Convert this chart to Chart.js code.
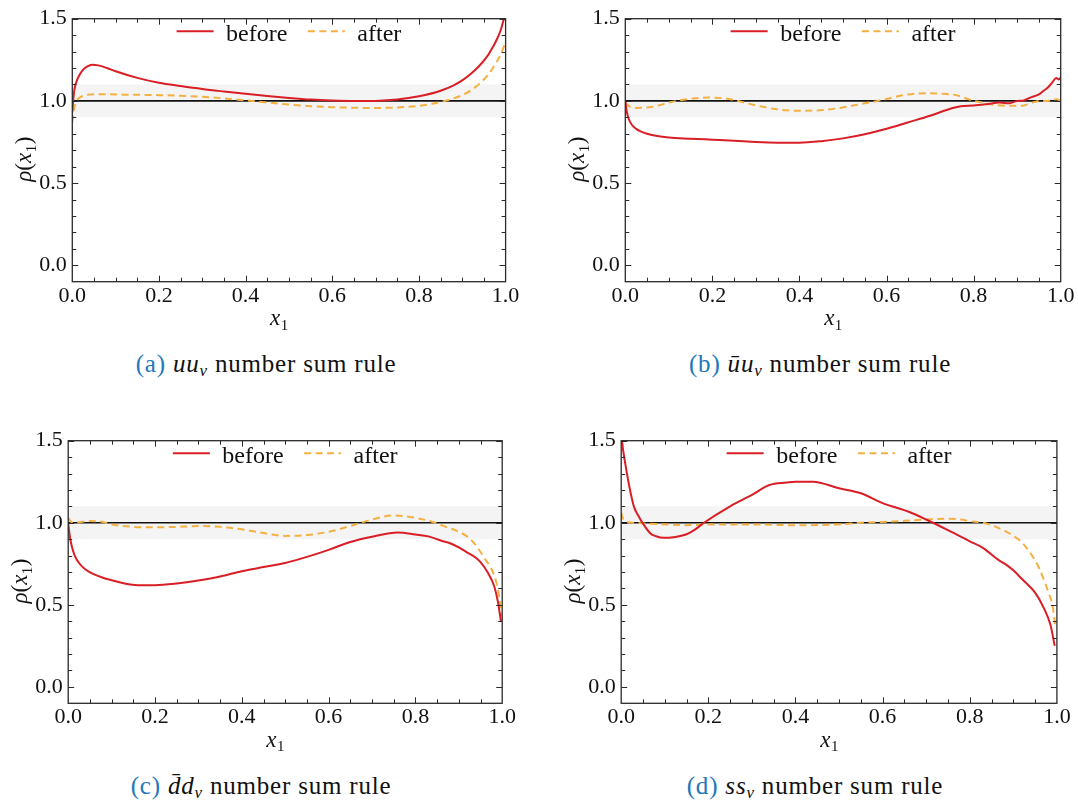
<!DOCTYPE html>
<html><head><meta charset="utf-8">
<script src="https://cdn.jsdelivr.net/npm/chart.js@4.4.0/dist/chart.umd.min.js"></script>
<style>
html,body{margin:0;padding:0;background:#fff}
body{width:1078px;height:802px;position:relative;overflow:hidden;font-family:"Liberation Serif",serif}
canvas{position:absolute}
.cap{position:absolute;font-size:25px;letter-spacing:0.8px;color:#111;white-space:nowrap;transform:translate(-50%,-50%);line-height:1}
.cap .lab{color:#2277b8;font-style:normal}
.cap sub{font-size:68%;vertical-align:-0.28em;line-height:0}
</style></head><body>
<canvas id="ca" width="540" height="345" style="left:0;top:0"></canvas>
<canvas id="cb" width="538" height="345" style="left:540px;top:0"></canvas>
<canvas id="cc" width="540" height="345" style="left:0;top:422px"></canvas>
<canvas id="cd" width="538" height="345" style="left:540px;top:422px"></canvas>
<div class="cap" style="left:266px;top:363px"><span class="lab">(a)</span> <i>uu<sub>v</sub></i> number sum rule</div>
<div class="cap" style="left:820px;top:363px"><span class="lab">(b)</span> <i>ūu<sub>v</sub></i> number sum rule</div>
<div class="cap" style="left:261px;top:785px"><span class="lab">(c)</span> <i>d̄d<sub>v</sub></i> number sum rule</div>
<div class="cap" style="left:815px;top:785px"><span class="lab">(d)</span> <i>ss<sub>v</sub></i> number sum rule</div>
<script>
// ---- tick labels ----
const xTicks = [0, 0.2, 0.4, 0.6, 0.8, 1.0];
const yTicks = [0, 0.5, 1.0, 1.5];
const seriesLabels = ['before', 'after'];
const xTitleParts = [['x', 'i'], ['1', 's']];
const yTitleParts = [['ρ', 'i'], ['(', 'n'], ['x', 'i'], ['1', 's'], [')', 'n']];
const refX = [0, 1];
const refY = [1.0, 1.0];
const bandLow = 0.9;
const bandHigh = 1.1;

// ---- (a) uu_v ----
const aBeforeX = [0, 0.002, 0.005, 0.01, 0.015, 0.025, 0.035, 0.045, 0.06, 0.08, 0.1, 0.15, 0.2, 0.25, 0.3, 0.35, 0.4, 0.45, 0.5, 0.55, 0.6, 0.65, 0.7, 0.75, 0.8, 0.85, 0.88, 0.9, 0.92, 0.94, 0.96, 0.97, 0.98, 0.99, 0.996];
const aBeforeY = [0.93, 1.0, 1.07, 1.12, 1.15, 1.19, 1.21, 1.22, 1.216, 1.2, 1.18, 1.14, 1.11, 1.09, 1.072, 1.057, 1.043, 1.03, 1.018, 1.008, 1.002, 0.999, 1.0, 1.008, 1.028, 1.062, 1.095, 1.125, 1.165, 1.215, 1.28, 1.325, 1.375, 1.44, 1.5];
const aAfterX = [0, 0.004, 0.01, 0.02, 0.03, 0.05, 0.08, 0.12, 0.2, 0.3, 0.4, 0.45, 0.5, 0.55, 0.6, 0.65, 0.7, 0.75, 0.8, 0.83, 0.86, 0.88, 0.9, 0.92, 0.94, 0.96, 0.98, 0.99, 1.0];
const aAfterY = [0.87, 0.95, 1.0, 1.025, 1.035, 1.04, 1.04, 1.038, 1.035, 1.025, 1.003, 0.99, 0.978, 0.968, 0.962, 0.958, 0.957, 0.96, 0.97, 0.982, 1.0, 1.015, 1.035, 1.065, 1.105, 1.16, 1.24, 1.29, 1.36];

// ---- (b) ubar u_v ----
const bBeforeX = [0, 0.003, 0.008, 0.015, 0.025, 0.035, 0.05, 0.07, 0.1, 0.15, 0.2, 0.25, 0.3, 0.35, 0.4, 0.45, 0.5, 0.55, 0.6, 0.65, 0.7, 0.75, 0.77, 0.8, 0.83, 0.86, 0.88, 0.9, 0.915, 0.93, 0.95, 0.96, 0.97, 0.98, 0.99, 0.995, 1.0];
const bBeforeY = [1.0, 0.94, 0.89, 0.855, 0.83, 0.815, 0.8, 0.788, 0.777, 0.77, 0.764, 0.758, 0.75, 0.746, 0.746, 0.755, 0.772, 0.797, 0.83, 0.87, 0.91, 0.955, 0.968, 0.972, 0.98, 0.99, 0.985, 1.0, 1.003, 1.02, 1.04, 1.06, 1.08, 1.11, 1.14, 1.13, 1.14];
const bAfterX = [0, 0.01, 0.02, 0.04, 0.06, 0.08, 0.1, 0.13, 0.16, 0.19, 0.22, 0.25, 0.28, 0.31, 0.34, 0.37, 0.4, 0.43, 0.46, 0.49, 0.52, 0.55, 0.58, 0.61, 0.64, 0.67, 0.7, 0.73, 0.76, 0.78, 0.8, 0.82, 0.85, 0.88, 0.91, 0.93, 0.95, 0.97, 0.99, 1.0];
const bAfterY = [0.99, 0.965, 0.957, 0.958, 0.963, 0.975, 0.99, 1.005, 1.016, 1.02, 1.018, 1.005, 0.985, 0.967, 0.952, 0.943, 0.94, 0.941, 0.946, 0.956, 0.97, 0.985, 1.0, 1.018, 1.035, 1.045, 1.047, 1.043, 1.035, 1.018, 1.0, 0.99, 0.975, 0.97, 0.97, 0.985, 1.0, 1.0, 1.01, 1.0];

// ---- (c) dbar d_v ----
const cBeforeX = [0, 0.003, 0.008, 0.015, 0.025, 0.04, 0.06, 0.08, 0.1, 0.13, 0.16, 0.2, 0.25, 0.3, 0.35, 0.4, 0.45, 0.5, 0.55, 0.6, 0.65, 0.7, 0.76, 0.8, 0.83, 0.86, 0.88, 0.9, 0.92, 0.94, 0.95, 0.966, 0.982, 0.99, 0.997];
const cBeforeY = [1.0, 0.93, 0.86, 0.8, 0.755, 0.715, 0.685, 0.665, 0.65, 0.63, 0.62, 0.62, 0.63, 0.648, 0.672, 0.705, 0.73, 0.755, 0.792, 0.835, 0.883, 0.915, 0.94, 0.928, 0.917, 0.89, 0.875, 0.85, 0.818, 0.785, 0.76, 0.70, 0.61, 0.52, 0.40];
const cAfterX = [0, 0.01, 0.03, 0.05, 0.08, 0.1, 0.15, 0.2, 0.25, 0.3, 0.35, 0.4, 0.45, 0.5, 0.55, 0.6, 0.65, 0.7, 0.75, 0.8, 0.84, 0.87, 0.9, 0.92, 0.94, 0.96, 0.975, 0.985, 0.993, 0.998];
const cAfterY = [1.03, 1.0, 1.005, 1.01, 1.005, 0.99, 0.975, 0.972, 0.975, 0.98, 0.975, 0.96, 0.937, 0.92, 0.925, 0.945, 0.98, 1.02, 1.045, 1.03, 1.005, 0.975, 0.945, 0.915, 0.86, 0.78, 0.72, 0.65, 0.55, 0.43];

// ---- (d) ss_v ----
const dBeforeX = [0, 0.004, 0.01, 0.018, 0.029, 0.04, 0.05, 0.067, 0.08, 0.097, 0.12, 0.15, 0.17, 0.19, 0.25, 0.3, 0.34, 0.38, 0.4, 0.44, 0.5, 0.55, 0.6, 0.66, 0.7, 0.75, 0.8, 0.83, 0.865, 0.885, 0.9, 0.92, 0.95, 0.97, 0.985, 0.995];
const dBeforeY = [1.55, 1.45, 1.35, 1.23, 1.1, 1.04, 0.995, 0.935, 0.918, 0.908, 0.912, 0.93, 0.96, 1.0, 1.1, 1.17, 1.23, 1.245, 1.25, 1.25, 1.21, 1.18, 1.12, 1.067, 1.02, 0.955, 0.887, 0.847, 0.775, 0.742, 0.71, 0.657, 0.574, 0.48, 0.38, 0.25];
const dAfterX = [0, 0.005, 0.015, 0.03, 0.06, 0.1, 0.15, 0.2, 0.3, 0.4, 0.5, 0.55, 0.6, 0.65, 0.7, 0.75, 0.78, 0.8, 0.83, 0.86, 0.88, 0.9, 0.92, 0.935, 0.95, 0.96, 0.97, 0.98, 0.99, 0.996];
const dAfterY = [1.06, 1.02, 1.005, 1.0, 0.995, 0.99, 0.985, 0.99, 0.99, 0.985, 0.99, 1.0, 1.005, 1.012, 1.02, 1.025, 1.02, 1.01, 1.0, 0.975, 0.95, 0.92, 0.88, 0.83, 0.77, 0.72, 0.653, 0.58, 0.495, 0.38];

const RED = '#d91e26';
const ORANGE = '#f5b042';
const FONT = '"Liberation Serif", serif';
const DASH = [7, 4.5];

function toXY(xs, ys) { return xs.map((x, i) => ({x: x, y: ys[i]})); }

function partFont(kind) {
  if (kind === 'i') return 'italic 23px ' + FONT;
  if (kind === 's') return '15px ' + FONT;
  return '23px ' + FONT;
}
function drawParts(ctx, parts, cx, baseline) {
  let total = 0;
  const ws = parts.map(p => { ctx.font = partFont(p[1]); const w = ctx.measureText(p[0]).width + (p[1] === 's' ? 1 : 0); total += w; return w; });
  let x = cx - total / 2;
  ctx.textAlign = 'left';
  ctx.textBaseline = 'alphabetic';
  parts.forEach((p, i) => {
    ctx.font = partFont(p[1]);
    ctx.fillText(p[0], x + (p[1] === 's' ? 0.5 : 0), baseline + (p[1] === 's' ? 4.5 : 0));
    x += ws[i];
  });
}

const framePlugin = {
  id: 'frameTicks',
  afterDatasetsDraw(chart) {
    const {ctx, chartArea: a, scales: {x, y}} = chart;
    ctx.save();
    ctx.strokeStyle = '#2a2a2a';
    ctx.lineWidth = 1;
    ctx.beginPath();
    for (let i = 1; i < 20; i++) {
      const v = i * 0.05;
      const px = Math.round(x.getPixelForValue(v)) + 0.5;
      const L = (i % 4 === 0) ? 6 : 4;
      ctx.moveTo(px, a.bottom); ctx.lineTo(px, a.bottom - L);
      ctx.moveTo(px, a.top); ctx.lineTo(px, a.top + L);
    }
    for (let i = 0; i <= 15; i++) {
      const v = i * 0.1;
      const py = Math.round(y.getPixelForValue(v)) + 0.5;
      const L = (i % 5 === 0) ? 6 : 4;
      ctx.moveTo(a.left, py); ctx.lineTo(a.left + L, py);
      ctx.moveTo(a.right, py); ctx.lineTo(a.right - L, py);
    }
    ctx.stroke();
    ctx.lineWidth = 1.3;
    ctx.strokeRect(a.left, a.top, a.right - a.left, a.bottom - a.top);
    // legend
    ctx.font = '24px ' + FONT;
    const items = chart.data.datasets.filter(d => seriesLabels.includes(d.label));
    const sample = 37, gap = 12.5, itemGap = 20.5;
    let total = 0;
    const widths = items.map(d => ctx.measureText(d.label).width);
    items.forEach((d, i) => { total += sample + gap + widths[i]; if (i) total += itemGap; });
    let cx = (a.left + a.right) / 2 - total / 2;
    const ly = a.top + 12.5, ty = a.top + 22.5;
    items.forEach((d, i) => {
      ctx.beginPath();
      ctx.strokeStyle = d.borderColor;
      ctx.lineWidth = 2;
      ctx.setLineDash(d.borderDash || []);
      ctx.moveTo(cx, ly); ctx.lineTo(cx + sample, ly);
      ctx.stroke();
      ctx.setLineDash([]);
      cx += sample + gap;
      ctx.fillStyle = '#111';
      ctx.textBaseline = 'alphabetic';
      ctx.textAlign = 'left';
      ctx.fillText(d.label, cx, ty);
      cx += widths[i] + itemGap;
    });
    // axis titles
    ctx.fillStyle = '#111';
    drawParts(ctx, xTitleParts, (a.left + a.right) / 2 - 9.5, a.bottom + 43.5);
    ctx.save();
    ctx.translate(a.left - 41, (a.top + a.bottom) / 2 + 9);
    ctx.rotate(-Math.PI / 2);
    drawParts(ctx, yTitleParts, 0, 0);
    ctx.restore();
    ctx.restore();
  }
};

function makeChart(id, g, bx, by, ax, ay) {
  const datasets = [
    {label: seriesLabels[0], data: toXY(bx, by), borderColor: RED, borderWidth: 2, pointRadius: 0, fill: false, cubicInterpolationMode: 'monotone', order: 1},
    {label: seriesLabels[1], data: toXY(ax, ay), borderColor: ORANGE, borderWidth: 2, borderDash: DASH, pointRadius: 0, fill: false, cubicInterpolationMode: 'monotone', order: 2},
    {label: 'ref', data: toXY(refX, refY), borderColor: '#111', borderWidth: 1.6, pointRadius: 0, fill: false, order: 3},
    {label: 'band', data: toXY(refX, [bandHigh, bandHigh]), borderColor: 'rgba(0,0,0,0)', borderWidth: 0, backgroundColor: '#f4f4f4', fill: {value: bandLow}, pointRadius: 0, order: 4}
  ];
  return new Chart(document.getElementById(id), {
    type: 'line',
    data: {datasets},
    options: {
      responsive: false, animation: false, devicePixelRatio: 1,
      layout: {padding: {left: 0, top: g.top, right: g.right, bottom: 0}},
      plugins: {legend: {display: false}, tooltip: {enabled: false}},
      scales: {
        x: {
          type: 'linear', min: 0, max: 1,
          afterBuildTicks: s => { s.ticks = xTicks.map(v => ({value: v})); },
          afterFit: s => { s.height = g.xh; },
          grid: {display: false, drawTicks: false},
          border: {display: false},
          ticks: {padding: 1, color: '#111', font: {family: FONT, size: 22}, callback: v => Number(v).toFixed(1), maxRotation: 0, autoSkip: false},
          title: {display: false}
        },
        y: {
          type: 'linear', min: -0.1, max: 1.5,
          afterBuildTicks: s => { s.ticks = yTicks.map(v => ({value: v})); },
          afterFit: s => { s.width = g.yw; },
          grid: {display: false, drawTicks: false},
          border: {display: false},
          ticks: {padding: 5.5, color: '#111', font: {family: FONT, size: 22}, callback: v => Number(v).toFixed(1), autoSkip: false},
          title: {display: false}
        }
      }
    },
    plugins: [framePlugin]
  });
}

makeChart('ca', {top: 12.7, right: 34.4, xh: 63.3, yw: 72.3}, aBeforeX, aBeforeY, aAfterX, aAfterY);
makeChart('cb', {top: 12.7, right: 17.3, xh: 63.3, yw: 85.3}, bBeforeX, bBeforeY, bAfterX, bAfterY);
makeChart('cc', {top: 12.3, right: 37.8, xh: 63.7, yw: 68.2}, cBeforeX, cBeforeY, cAfterX, cAfterY);
makeChart('cd', {top: 12.3, right: 21.1, xh: 63.7, yw: 81.2}, dBeforeX, dBeforeY, dAfterX, dAfterY);
</script>
</body></html>
